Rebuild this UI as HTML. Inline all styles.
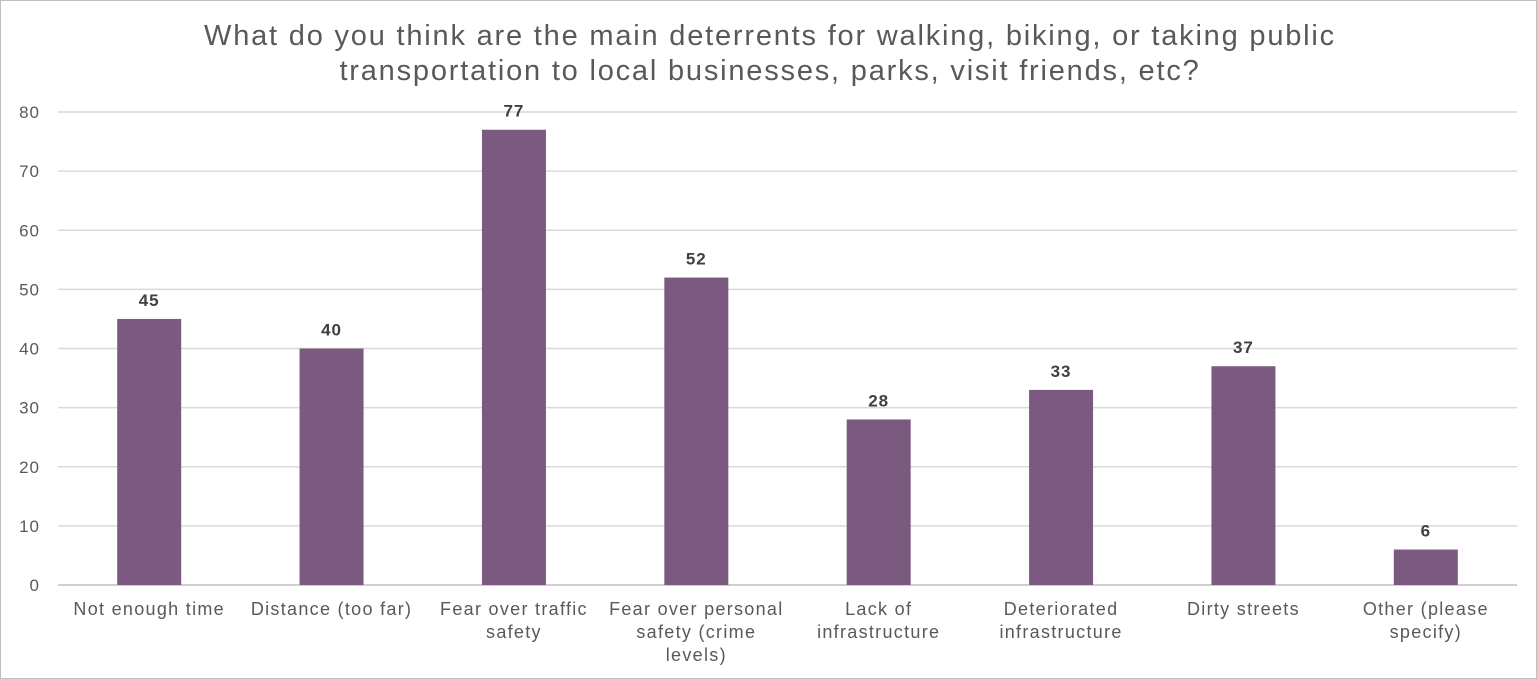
<!DOCTYPE html>
<html><head><meta charset="utf-8"><style>
body{margin:0;background:#fff;}
svg{display:block;font-family:"Liberation Sans",sans-serif;}
</style></head><body>
<svg id="chart" width="1537" height="679">
<rect x="0.5" y="0.5" width="1536" height="678" fill="#fff" stroke="#bfbfbf"/>
<text x="770" y="45" text-anchor="middle" font-size="29" letter-spacing="1.8" fill="#595959">What do you think are the main deterrents for walking, biking, or taking public</text>
<text x="770" y="80" text-anchor="middle" font-size="29" letter-spacing="1.8" fill="#595959">transportation to local businesses, parks, visit friends, etc?</text>
<g id="grid"></g><g id="bars"></g><g id="labels"></g>
</svg>
<script>
const categories=[["Not enough time"],["Distance (too far)"],["Fear over traffic","safety"],["Fear over personal","safety (crime","levels)"],["Lack of","infrastructure"],["Deteriorated","infrastructure"],["Dirty streets"],["Other (please","specify)"]];
const values=[45,40,77,52,28,33,37,6];
const ticks=[0,10,20,30,40,50,60,70,80];
const NS="http://www.w3.org/2000/svg";
const x0=58,x1=1517,y0=585,y80=112,yMax=80;
const y=v=>y0-(v/yMax)*(y0-y80);
const band=(x1-x0)/categories.length;
const xc=i=>x0+band*(i+0.5);
const bw=64;
function mk(tag,attrs,parent,text){const e=document.createElementNS(NS,tag);for(const k in attrs)e.setAttribute(k,attrs[k]);if(text!==undefined)e.textContent=text;parent.appendChild(e);return e;}
const grid=document.getElementById('grid'),bars=document.getElementById('bars'),labels=document.getElementById('labels');
ticks.forEach(t=>{
  const l=mk('line',{x1:x0,x2:x1,y1:y(t),y2:y(t),stroke:t===0?'#bfbfbf':'#d9d9d9','stroke-width':1.5},grid);
  
  
  const tx=mk('text',{x:40,y:y(t)+6,'text-anchor':'end','font-size':17,'letter-spacing':1,fill:'#595959'},grid,String(t));
  
  
});
values.forEach((v,i)=>{
  const r=mk('rect',{x:xc(i)-bw/2,y:y(v),width:bw,height:y0-y(v),fill:'#7b5a80'},bars);
  
  
  const vl=mk('text',{x:xc(i),y:y(v)-13,'text-anchor':'middle','font-size':17,'font-weight':'bold','letter-spacing':1,fill:'#404040'},labels,String(v));
  
  
  categories[i].forEach((line,j)=>{
    const c=mk('text',{x:xc(i),y:615+j*23,'text-anchor':'middle','font-size':18,'letter-spacing':1.3,fill:'#595959'},labels,line);
    
    
  });
});
</script>
</body></html>
